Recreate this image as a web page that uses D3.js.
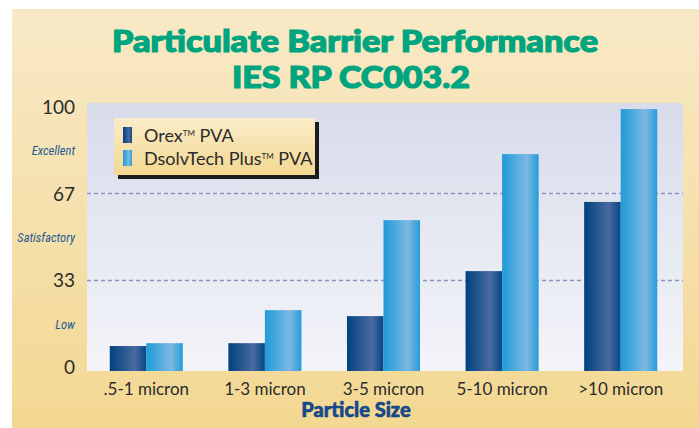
<!DOCTYPE html>
<html>
<head>
<meta charset="utf-8">
<script src="https://cdn.jsdelivr.net/npm/d3@7"></script>
<style>
  body { margin: 0; background: #fff; }
  text { font-family: Lato, "Open Sans", sans-serif; }
</style>
</head>
<body>
<script>
// chart data
var categories = [".5-1 micron", "1-3 micron", "3-5 micron", "5-10 micron", ">10 micron"];
var seriesNames = ["Orex\u2122 PVA", "DsolvTech Plus\u2122 PVA"];
var orexValues = [8.1, 9.2, 19.6, 36.9, 63.5];
var dsolvValues = [9.2, 21.9, 56.5, 81.9, 99.2];
var tickValues = [0, 33.3, 66.7, 100];
var tickLabels = ["0", "33", "67", "100"];
var ratingValues = [16.7, 50, 83.3];
var ratingLabels = ["Low", "Satisfactory", "Excellent"];
var gridValues = [33.3, 66.7];

var w = 699, h = 428;
var plot = {left: 87, right: 683, top: 103, bottom: 371};

var svg = d3.select("body").append("svg")
    .attr("width", w)
    .attr("height", h);

var defs = svg.append("defs");

function vGrad(id, c1, c2){  //vertical gradient helper
    var g = defs.append("linearGradient").attr("id", id)
        .attr("x1", 0).attr("y1", 0).attr("x2", 0).attr("y2", 1);
    g.append("stop").attr("offset", "0%").attr("stop-color", c1);
    g.append("stop").attr("offset", "100%").attr("stop-color", c2);
}
function hGrad(id, edgeL, mid, edgeR){  //horizontal "cylinder" gradient for bars
    var g = defs.append("linearGradient").attr("id", id)
        .attr("x1", 0).attr("y1", 0).attr("x2", 1).attr("y2", 0);
    g.append("stop").attr("offset", "0%").attr("stop-color", edgeL);
    g.append("stop").attr("offset", "68%").attr("stop-color", mid);
    g.append("stop").attr("offset", "100%").attr("stop-color", edgeR);
}
vGrad("bgGrad", "#f8e9c6", "#f3d892");
vGrad("plotGrad", "#d8dbea", "#f4f5fa");
vGrad("legGrad", "#f9ecc9", "#f3d891");
hGrad("darkGrad", "#00427f", "#4a69a0", "#054886");
hGrad("lightGrad", "#1f9bd8", "#7cb8e3", "#279cd8");

// backgrounds
svg.append("rect").attr("x", 12).attr("y", 9)
    .attr("width", w - 12).attr("height", h - 9)
    .style("fill", "url(#bgGrad)");

svg.append("rect").attr("x", plot.left).attr("y", plot.top)
    .attr("width", plot.right - plot.left).attr("height", plot.bottom - plot.top)
    .style("fill", "url(#plotGrad)");

// scales
var x0 = d3.scaleBand()
    .domain(categories)
    .range([plot.left, 680])
    .paddingInner(0.384)
    .paddingOuter(0.192);

var x1 = d3.scaleBand()
    .domain(seriesNames)
    .range([0, x0.bandwidth()]);

var y = d3.scaleLinear()
    .domain([-1.5, 100])
    .range([plot.bottom, 107]);

// dashed grid lines
svg.selectAll(".grid")
    .data(gridValues)
    .enter()
    .append("line")
    .attr("class", "grid")
    .attr("x1", plot.left).attr("x2", plot.right)
    .attr("y1", function(d){ return y(d); })
    .attr("y2", function(d){ return y(d); })
    .style("stroke", "#8c95c2")
    .style("stroke-width", 1.5)
    .style("stroke-dasharray", "4,3");

// bars
var rows = categories.map(function(c, i){
    return {cat: c, vals: [
        {name: seriesNames[0], v: orexValues[i], fill: "url(#darkGrad)"},
        {name: seriesNames[1], v: dsolvValues[i], fill: "url(#lightGrad)"}
    ]};
});

var groups = svg.selectAll(".group")
    .data(rows)
    .enter()
    .append("g")
    .attr("class", "group")
    .attr("transform", function(d){ return "translate(" + x0(d.cat) + ",0)"; });

groups.selectAll("rect")
    .data(function(d){ return d.vals; })
    .enter()
    .append("rect")
    .attr("x", function(d){ return x1(d.name); })
    .attr("width", x1.bandwidth())
    .attr("y", function(d){ return y(d.v); })
    .attr("height", function(d){ return y.range()[0] - y(d.v); })
    .style("fill", function(d){ return d.fill; });

// y tick labels
svg.selectAll(".ytick")
    .data(tickValues)
    .enter()
    .append("text")
    .attr("class", "ytick")
    .attr("x", 75)
    .attr("y", function(d){ return y(d) + 7; })
    .attr("text-anchor", "end")
    .style("font-size", "19px")
    .style("fill", "#2b2b2b")
    .text(function(d, i){ return tickLabels[i]; });

// rating labels
svg.selectAll(".rating")
    .data(ratingValues)
    .enter()
    .append("text")
    .attr("class", "rating")
    .attr("x", 75)
    .attr("y", function(d){ return y(d) + 5; })
    .attr("text-anchor", "end")
    .style("font-size", "12.5px")
    .style("font-style", "italic")
    .style("font-family", "'Liberation Sans Narrow', 'Roboto Condensed', Lato, sans-serif")
    .style("fill", "#1f5a93")
    .text(function(d, i){ return ratingLabels[i]; });

// x category labels
svg.selectAll(".xlabel")
    .data(categories)
    .enter()
    .append("text")
    .attr("class", "xlabel")
    .attr("x", function(d){ return x0(d) + x0.bandwidth() / 2; })
    .attr("y", 395)
    .attr("text-anchor", "middle")
    .style("font-size", "17px")
    .style("fill", "#2b2b2b")
    .text(function(d){ return d; });

// axis title
svg.append("text")
    .attr("x", 356)
    .attr("y", 417)
    .attr("text-anchor", "middle")
    .style("font-size", "20px")
    .style("font-weight", 900)
    .style("fill", "#17488a")
    .style("stroke", "#17488a")
    .style("stroke-width", 0.6)
    .text("Particle Size");

// chart title (two lines)
var titleLines = ["Particulate Barrier Performance", "IES RP CC003.2"];
var titleWidths = [486, 238];
svg.selectAll(".title")
    .data(titleLines)
    .enter()
    .append("text")
    .attr("class", "title")
    .attr("text-anchor", "middle")
    .attr("x", function(d, i){ return i === 0 ? 355 : 351; })
    .attr("y", function(d, i){ return 52 + i * 36; })
    .attr("textLength", function(d, i){ return titleWidths[i]; })
    .attr("lengthAdjust", "spacingAndGlyphs")
    .style("font-size", "30px")
    .style("font-weight", 900)
    .style("fill", "#00a57f")
    .style("stroke", "#00a57f")
    .style("stroke-width", 1.2)
    .text(function(d){ return d; });

// legend
var legend = svg.append("g").attr("transform", "translate(114,118)");
legend.append("rect").attr("x", 4).attr("y", 4).attr("width", 201).attr("height", 57)
    .style("fill", "#1c1c1c");
legend.append("rect").attr("width", 201).attr("height", 57)
    .style("fill", "url(#legGrad)");

var legItems = legend.selectAll(".legItem")
    .data(seriesNames)
    .enter()
    .append("g")
    .attr("class", "legItem")
    .attr("transform", function(d, i){ return "translate(9," + (9 + i * 23) + ")"; });

legItems.append("rect")
    .attr("width", 9).attr("height", 16)
    .style("fill", function(d, i){ return i === 0 ? "url(#darkGrad)" : "url(#lightGrad)"; });

legItems.append("text")
    .attr("x", 21)
    .attr("y", 15)
    .style("font-size", "18px")
    .style("fill", "#2b2b2b")
    .each(function(d){
        var parts = d.split("\u2122");
        var t = d3.select(this);
        t.append("tspan").text(parts[0]);
        t.append("tspan").attr("dy", -6).style("font-size", "8px").text("TM");
        t.append("tspan").attr("dy", 6).text(" " + parts[1].trim());
    });
</script>
</body>
</html>
